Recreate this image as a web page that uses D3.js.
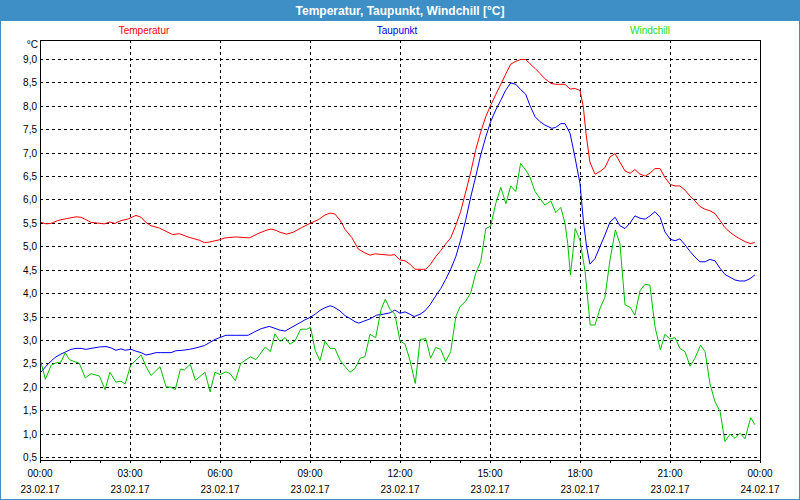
<!DOCTYPE html>
<html><head><meta charset="utf-8">
<script src="https://cdn.jsdelivr.net/npm/d3@7"></script>
<style>
body{margin:0;background:#fff}
svg{display:block}
text{font-family:"Liberation Sans",Arial,sans-serif}
</style>
</head><body>
<svg id="chart" width="800" height="500"></svg>
<script>
const chartTitle = "Temperatur, Taupunkt, Windchill [°C]";
const seriesNames = ["Temperatur", "Taupunkt", "Windchill"];
const seriesColors = ["#ff0000", "#0000ff", "#00c000"];
const legendColors = ["#ff0000", "#0000ff", "#22dd22"];
const unitLabel = "°C";

const tempHours = [0.03,0.2,0.37,0.59,0.87,1.2,1.37,1.53,1.7,1.87,2.14,2.33,2.5,2.7,2.92,3.2,3.37,3.53,3.7,3.98,4.2,4.42,4.64,4.98,5.31,5.48,5.64,5.98,6.17,6.53,6.98,7.26,7.53,7.7,7.87,
 8.0,8.22,8.44,8.72,9.0,9.28,9.5,9.67,9.83,10.0,10.17,10.39,10.61,10.83,11.0,11.17,11.33,11.67,11.83,12.0,12.17,12.33,12.5,12.67,12.86,13.02,13.19,13.36,13.52,13.69,13.86,14.02,14.19,14.36,14.52,14.69,14.86,15.02,15.19,15.36,15.52,15.69,15.86,16.02,16.19,
 16.33,16.5,16.67,16.83,17.03,17.19,17.5,17.67,17.83,18.0,18.11,18.2,18.33,18.5,18.67,18.83,19.0,19.17,19.33,19.5,19.67,19.83,20.0,20.17,20.33,20.5,20.67,20.83,21.01,21.17,21.33,21.5,21.67,21.83,22.0,22.17,22.33,22.5,22.67,22.83,23.0,23.17,23.33,23.5,23.67,23.83];
const tempValues = [5.52,5.49,5.50,5.56,5.60,5.64,5.63,5.58,5.52,5.51,5.49,5.53,5.50,5.56,5.59,5.67,5.63,5.52,5.45,5.40,5.33,5.26,5.28,5.20,5.14,5.09,5.10,5.15,5.19,5.21,5.19,5.28,5.35,5.38,5.35,
 5.31,5.27,5.31,5.41,5.50,5.58,5.68,5.72,5.70,5.57,5.37,5.20,4.95,4.87,4.82,4.85,4.84,4.82,4.83,4.72,4.70,4.63,4.52,4.52,4.52,4.63,4.79,4.92,5.06,5.19,5.46,5.75,6.17,6.60,7.06,7.45,7.78,8.02,8.25,8.47,8.68,8.90,8.96,9.0,9.0,
 8.91,8.81,8.70,8.59,8.49,8.47,8.47,8.37,8.38,8.34,7.99,7.42,6.81,6.55,6.61,6.69,6.92,6.99,6.81,6.62,6.57,6.65,6.55,6.51,6.57,6.67,6.67,6.48,6.33,6.30,6.30,6.21,6.08,5.98,5.86,5.80,5.77,5.71,5.56,5.41,5.31,5.23,5.17,5.11,5.07,5.09];

const dewHours = [0.03,0.2,0.37,0.53,0.7,0.87,1.03,1.2,1.37,1.53,1.7,1.98,2.2,2.37,2.53,2.7,2.84,3.03,3.2,3.37,3.53,3.7,3.87,4.03,4.37,4.53,4.76,4.98,5.2,5.48,5.64,5.83,6.03,6.2,6.53,6.94,7.14,7.37,7.64,7.87,
 8.0,8.17,8.33,8.5,8.67,8.83,9.0,9.17,9.33,9.5,9.67,9.78,10.0,10.17,10.33,10.5,10.63,10.83,11.0,11.22,11.44,11.67,11.83,12.0,12.17,12.33,12.47,12.67,12.83,13.0,13.19,13.36,13.52,13.69,13.86,14.02,14.19,14.36,14.52,14.69,14.86,15.02,15.19,15.36,15.52,15.69,15.86,16.02,16.19,
 16.33,16.5,16.67,16.83,17.06,17.19,17.36,17.5,17.67,17.83,18.0,18.11,18.22,18.33,18.5,18.67,18.83,19.0,19.17,19.33,19.5,19.67,19.83,20.0,20.17,20.33,20.5,20.67,20.83,21.01,21.17,21.33,21.5,21.67,21.83,22.0,22.17,22.33,22.5,22.67,22.83,23.0,23.17,23.33,23.5,23.67,23.83];
const dewValues = [2.32,2.45,2.56,2.65,2.71,2.76,2.81,2.83,2.83,2.81,2.83,2.86,2.87,2.84,2.79,2.82,2.79,2.81,2.77,2.74,2.69,2.71,2.74,2.74,2.74,2.78,2.79,2.81,2.84,2.89,2.95,3.02,3.07,3.11,3.11,3.11,3.18,3.25,3.30,3.25,
 3.22,3.20,3.26,3.32,3.38,3.44,3.49,3.56,3.64,3.70,3.74,3.72,3.63,3.53,3.47,3.40,3.37,3.42,3.46,3.54,3.56,3.59,3.65,3.58,3.61,3.56,3.51,3.56,3.63,3.76,3.95,4.11,4.30,4.52,4.79,5.14,5.57,6.07,6.49,6.96,7.35,7.67,7.92,8.13,8.34,8.50,8.47,8.36,8.26,
 8.02,7.78,7.67,7.60,7.53,7.55,7.63,7.63,7.42,6.92,6.35,5.57,5.0,4.63,4.75,5.01,5.25,5.53,5.63,5.45,5.39,5.51,5.66,5.61,5.59,5.66,5.75,5.63,5.32,5.16,5.13,5.17,5.04,4.90,4.78,4.68,4.68,4.73,4.70,4.54,4.41,4.35,4.29,4.27,4.27,4.32,4.40];

const chillHours = [0.03,0.18,0.37,0.53,0.7,0.84,0.98,1.31,1.51,1.7,1.98,2.17,2.33,2.53,2.7,2.84,3.02,3.2,3.37,3.53,3.7,4.0,4.2,4.37,4.51,4.68,4.81,5.01,5.18,5.5,5.67,5.83,6.01,6.2,6.34,6.51,6.69,7.01,7.2,7.51,7.68,7.83,
 8.0,8.17,8.33,8.5,8.69,8.89,9.02,9.17,9.33,9.5,9.67,9.83,10.0,10.17,10.33,10.5,10.67,10.83,11.0,11.19,11.37,11.51,11.67,11.83,12.0,12.17,12.33,12.51,12.67,12.86,13.02,13.19,13.36,13.52,13.69,13.86,14.0,14.19,14.36,14.52,14.69,14.86,15.02,15.19,15.36,15.53,15.69,15.86,16.02,16.19,
 16.33,16.5,16.67,16.83,17.03,17.19,17.36,17.5,17.59,17.68,17.76,17.84,18.0,18.17,18.34,18.5,18.67,18.83,19.0,19.18,19.33,19.5,19.67,19.83,20.0,20.17,20.33,20.5,20.68,20.83,21.0,21.17,21.33,21.5,21.67,21.83,22.02,22.17,22.33,22.5,22.67,22.83,23.0,23.17,23.33,23.5,23.69,23.83];
const chillValues = [2.54,2.17,2.47,2.52,2.54,2.74,2.59,2.51,2.20,2.29,2.24,1.95,2.32,2.11,2.13,2.07,2.47,2.58,2.69,2.45,2.25,2.44,2.01,2.0,1.95,2.39,2.37,2.49,2.15,2.32,1.90,2.32,2.27,2.33,2.29,2.14,2.51,2.65,2.59,2.86,2.76,3.14,
 2.98,3.06,2.92,2.99,3.24,3.24,3.28,2.79,2.57,2.98,2.83,2.83,2.58,2.44,2.32,2.40,2.62,2.65,3.13,3.06,3.66,3.88,3.66,3.56,2.99,2.92,2.58,2.08,3.02,3.04,2.62,2.85,2.81,2.55,2.76,3.51,3.72,3.84,4.02,4.43,4.68,5.39,5.44,5.92,6.27,5.92,6.3,6.18,6.78,6.64,
 6.49,6.18,6.03,5.89,5.98,5.73,5.84,5.50,5.07,4.40,4.86,5.39,5.14,4.47,3.33,3.33,3.69,3.92,4.72,5.36,5.07,3.76,3.71,3.54,4.06,4.20,4.18,3.29,2.80,3.13,3.03,3.06,2.83,2.76,2.45,2.62,2.90,2.76,2.08,1.69,1.48,0.84,1.00,0.91,1.02,0.90,1.35,1.20];

const yTickValues = [0.5,1.0,1.5,2.0,2.5,3.0,3.5,4.0,4.5,5.0,5.5,6.0,6.5,7.0,7.5,8.0,8.5,9.0];
const xStart = new Date(2017, 1, 23, 0, 0);
const xEnd = new Date(2017, 1, 24, 0, 0);

const svg = d3.select("#chart");
const W = 800, H = 500;
const L = 40, R = 760, T = 40, B = 460;

const x = d3.scaleTime().domain([xStart, xEnd]).range([L, R]);
const y = d3.scaleLinear().domain([0.5, 9.0]).range([457.5, 59.5]);
const px = v => Math.floor(v) + 0.5;
const toDate = h => new Date(xStart.getTime() + h * 3600000);

// background
svg.append("rect").attr("x", 0).attr("y", 0).attr("width", W).attr("height", H).attr("fill", "#ffffff");
// title bar
const barColor = "#3d8fc6";
svg.append("rect").attr("x", 0).attr("y", 0).attr("width", W).attr("height", 21).attr("fill", barColor);
svg.append("rect").attr("x", 0.5).attr("y", 0.5).attr("width", W - 1).attr("height", H - 1)
  .attr("fill", "none").attr("stroke", barColor).attr("stroke-width", 1);
svg.append("text").attr("x", W / 2).attr("y", 15).attr("text-anchor", "middle")
  .attr("fill", "#ffffff").attr("font-weight", "bold").attr("font-size", 12)
  .style("font-family", '"Liberation Sans Narrow","Liberation Sans",Arial,sans-serif')
  .text(chartTitle);

// legend
const legendX = [144, 397, 650];
seriesNames.forEach((n, i) => {
  svg.append("text").attr("x", legendX[i]).attr("y", 34).attr("text-anchor", "middle")
    .attr("font-size", 10).attr("fill", legendColors[i])
    .style("font-family", '"Liberation Sans Narrow","Liberation Sans",Arial,sans-serif')
    .text(n);
});

// grid
const grid = svg.append("g").attr("shape-rendering", "crispEdges");
yTickValues.forEach(v => {
  grid.append("line").attr("x1", L).attr("x2", R).attr("y1", px(y(v))).attr("y2", px(y(v)))
    .attr("stroke", "#000").attr("stroke-dasharray", "3,3");
});
const majorTicks = x.ticks(d3.timeHour.every(3));
majorTicks.forEach(t => {
  const xp = px(x(t));
  if (x(t) > L + 1 && x(t) < R - 1) {
    grid.append("line").attr("x1", xp).attr("x2", xp).attr("y1", T).attr("y2", 457)
      .attr("stroke", "#000").attr("stroke-dasharray", "3,3");
  }
});

// frame
const frame = svg.append("g").attr("shape-rendering", "crispEdges");
frame.append("line").attr("x1", L).attr("x2", R + 1).attr("y1", T + 0.5).attr("y2", T + 0.5).attr("stroke", "#000");
frame.append("line").attr("x1", L + 0.5).attr("x2", L + 0.5).attr("y1", T).attr("y2", B + 1).attr("stroke", "#000");
frame.append("line").attr("x1", R + 0.5).attr("x2", R + 0.5).attr("y1", T).attr("y2", B + 1).attr("stroke", "#000");
frame.append("line").attr("x1", L).attr("x2", R + 1).attr("y1", B + 0.5).attr("y2", B + 0.5).attr("stroke", "#000");

// x axis ticks
const xAxis = d3.axisBottom(x).ticks(d3.timeHour.every(1)).tickSize(3).tickFormat("");
const xg = svg.append("g").attr("transform", `translate(0,${B})`).attr("shape-rendering", "crispEdges").call(xAxis);
xg.select(".domain").remove();
xg.selectAll(".tick line").attr("stroke", "#000");

const fmtTime = d3.timeFormat("%H:%M");
const fmtDate = d3.timeFormat("%d.%m.%y");
majorTicks.forEach(t => {
  svg.append("text").attr("x", x(t)).attr("y", 477).attr("text-anchor", "middle")
    .attr("font-size", 10).attr("fill", "#000").text(fmtTime(t));
  svg.append("text").attr("x", x(t)).attr("y", 493).attr("text-anchor", "middle")
    .attr("font-size", 10).attr("fill", "#000").text(fmtDate(t));
});

// y labels
const fmtY = v => v.toFixed(1).replace(".", ",");
yTickValues.forEach(v => {
  svg.append("text").attr("x", 37).attr("y", y(v) + 3.5).attr("text-anchor", "end")
    .attr("font-size", 10).attr("fill", "#000").text(fmtY(v));
});
svg.append("text").attr("x", 38).attr("y", 48).attr("text-anchor", "end")
  .attr("font-size", 10).attr("fill", "#000").text(unitLabel);

// series
const series = [
  {hours: tempHours, values: tempValues},
  {hours: dewHours, values: dewValues},
  {hours: chillHours, values: chillValues}
];
const line = d3.line().x(d => x(d.t)).y(d => y(d.v));
series.forEach((s, i) => {
  const pts = s.hours.map((h, k) => ({t: toDate(h), v: s.values[k]}));
  svg.append("path").datum(pts).attr("d", line).attr("fill", "none")
    .attr("stroke", seriesColors[i]).attr("stroke-width", 1);
});
</script>
</body></html>
